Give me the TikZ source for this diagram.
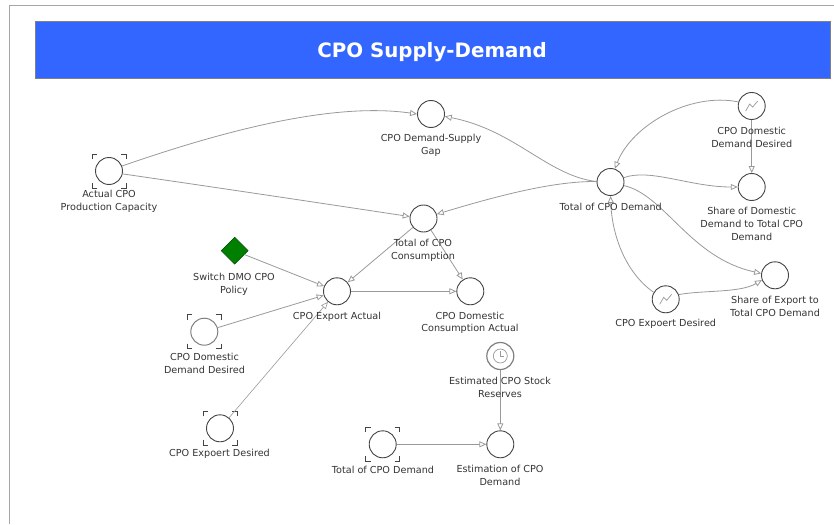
\documentclass[tikz,border=0pt]{standalone}
\usepackage{fontspec}
\setmainfont{DejaVu Sans}
\usetikzlibrary{arrows.meta}
\definecolor{banner}{HTML}{3366FF}
\definecolor{txt}{HTML}{333333}
\definecolor{lnk}{HTML}{999999}
\definecolor{nodeline}{HTML}{444444}
\tikzset{
  x=1pt,y=-1pt,
  var/.style={circle,draw=nodeline,line width=0.9pt,fill=white,minimum size=27pt,inner sep=0pt},
  lab/.style={align=center,text=txt,inner sep=0pt,yshift=-0.8pt,font=\fontsize{9.65}{12.9}\selectfont},
  link/.style={draw=lnk,line width=0.8pt,-{Triangle[open,length=7pt,width=6pt,fill=white]}},
  brk/.pic={
    \draw[nodeline,line width=0.8pt]
      (-17,-12)--(-17,-17)--(-12,-17)
      (12,-17)--(17,-17)--(17,-12)
      (-17,12)--(-17,17)--(-12,17)
      (12,17)--(17,17)--(17,12);
  },
  trend/.pic={
    \draw[lnk,line width=0.7pt] (-6,5)--(-2,-2)--(1,1)--(6,-5);
  },
  clockface/.pic={
    \draw[lnk,line width=0.7pt] (0,0) circle (7);
    \draw[lnk,line width=0.7pt] (0,-5)--(0,0)--(4,0);
  }
}
\begin{document}
\begin{tikzpicture}
\useasboundingbox (0,0) rectangle (834,524);
\draw[gray!70,line width=0.9pt] (834,5)--(9,5)--(9,524);
\node[draw=gray,line width=0.4pt,fill=banner,minimum width=795pt,minimum height=57pt,inner sep=0pt] (banner) at (432.5,50) {};
\node[text=white,inner sep=0pt,font=\fontsize{19.8}{24}\selectfont\bfseries] (title) at (432,52.5) {CPO Supply-Demand};

% variables
\node[var] (act) at (109,171) {};
\node[var] (gap) at (431,114) {};
\node[var] (cons) at (423.5,218.5) {};
\node[var] (dem) at (610.5,182) {};
\node[var] (domtop) at (751.7,106) {};
\node[var] (sdom) at (751.7,187) {};
\node[var] (sexp) at (775,275.3) {};
\node[var] (exptop) at (665.7,299.3) {};
\node[var] (domact) at (470.3,291.3) {};
\node[var] (expact) at (337,291.3) {};
\node[draw=black!70!green,line width=0.5pt,fill=green!50!black,shape=rectangle,rotate=45,minimum size=19pt,inner sep=0pt] (sw) at (234.7,250.7) {};
\node[var,draw=gray,line width=1pt] (domleft) at (204.3,331.7) {};
\node[var] (expleft) at (220,428.3) {};
\node[var] (totbot) at (382.7,444.3) {};
\node[var] (estim) at (500.3,444.3) {};
\node[var,draw=gray,line width=1.2pt] (stock) at (500.3,356) {};

\pic at (act) {brk};
\pic at (domleft) {brk};
\pic at (expleft) {brk};
\pic at (totbot) {brk};
\pic at (domtop) {trend};
\pic at (exptop) {trend};
\pic at (stock) {clockface};

% connectors
\draw[link] (act.21) .. controls (240,125) and (340,103) .. (gap.180);
\draw[link] (act.-12) .. controls (220,188) and (320,203) .. (cons.172);
\draw[link] (dem.178) .. controls (548,176) and (515,130) .. (gap.-10);
\draw[link] (dem.178) .. controls (555,181) and (500,195) .. (cons.18);
\draw[link] (domtop.163) .. controls (690,92) and (632,125) .. (dem.72);
\draw[link] (domtop) -- (sdom);
\draw[link] (dem.18) .. controls (650,168) and (690,187) .. (sdom.180);
\draw[link] (dem.-15) .. controls (665,195) and (690,258) .. (sexp.172);
\draw[link] (exptop.150) .. controls (625,272) and (612,235) .. (dem.-90);
\draw[link] (exptop.20) .. controls (705,290) and (740,293) .. (sexp.200);
\draw[link] (cons) -- (expact);
\draw[link] (cons) -- (domact);
\draw[link] (expact) -- (domact);
\draw[link] (sw) -- (expact);
\draw[link] (domleft) -- (expact);
\draw[link,line width=0.6pt] (expleft) -- (expact);
\draw[link] (stock) -- (estim);
\draw[link] (totbot) -- (estim);

% labels
\node[lab] (lact) at (109,200.6) {Actual CPO\\Production Capacity};
\node[lab] (lgap) at (431,144.5) {CPO Demand-Supply\\Gap};
\node[lab] (lcons) at (423,249.5) {Total of CPO\\Consumption};
\node[lab] (ldem) at (610.7,206.5) {Total of CPO Demand};
\node[lab] (ldomtop) at (751.7,136.5) {CPO Domestic\\Demand Desired};
\node[lab] (lsdom) at (751.7,223.5) {Share of Domestic\\Demand to Total CPO\\Demand};
\node[lab] (lsexp) at (775,306) {Share of Export to\\Total CPO Demand};
\node[lab] (lexptop) at (665.7,323.5) {CPO Expoert Desired};
\node[lab] (ldomact) at (470,322) {CPO Domestic\\Consumption Actual};
\node[lab] (lexpact) at (337,315.7) {CPO Export Actual};
\node[lab] (lsw) at (234,283.5) {Switch DMO CPO\\Policy};
\node[lab] (ldomleft) at (204.5,362.5) {CPO Domestic\\Demand Desired};
\node[lab] (lexpleft) at (219.5,452.7) {CPO Expoert Desired};
\node[lab] (ltotbot) at (383,468.7) {Total of CPO Demand};
\node[lab] (lestim) at (500,475) {Estimation of CPO\\Demand};
\node[lab] (lstock) at (500,386.5) {Estimated CPO Stock\\Reserves};
\end{tikzpicture}
\end{document}
